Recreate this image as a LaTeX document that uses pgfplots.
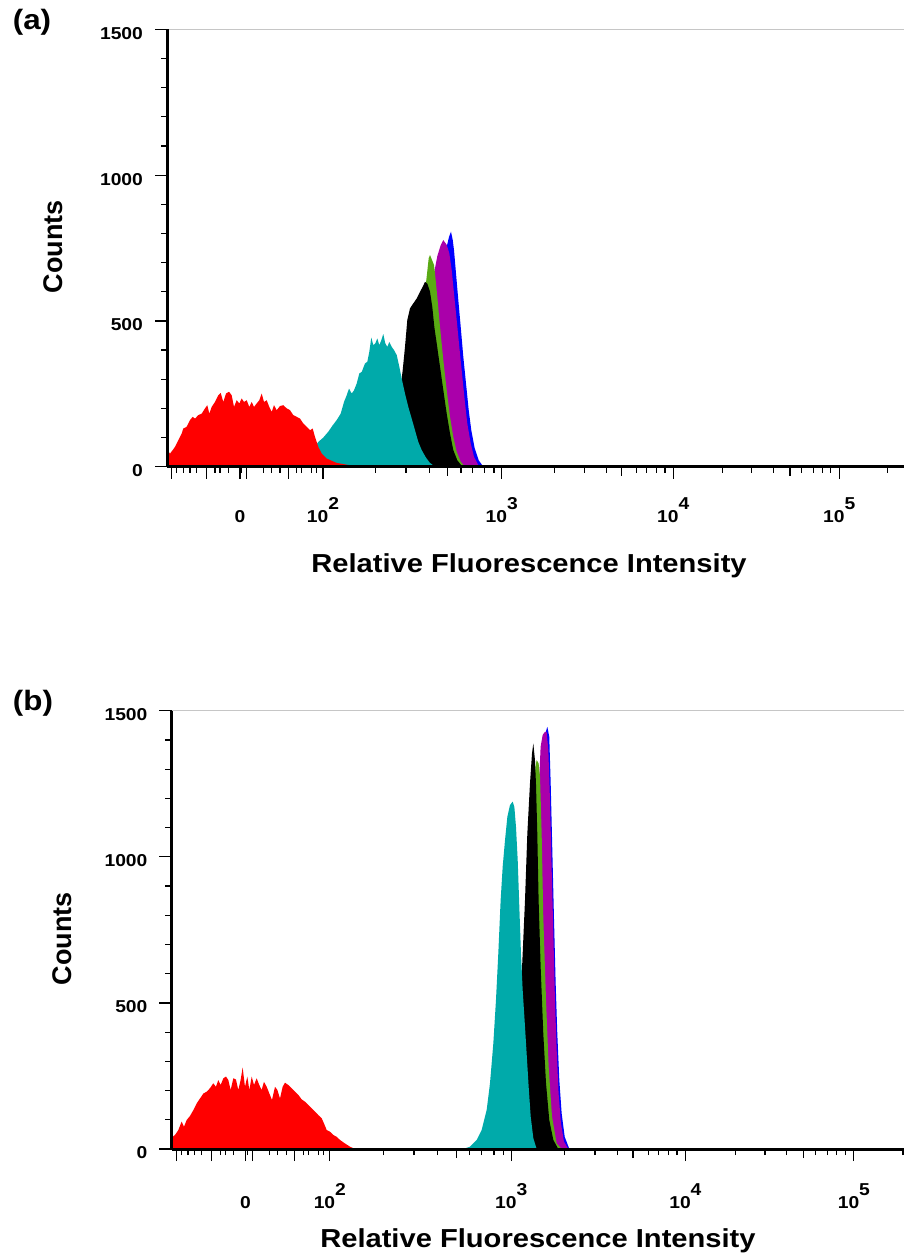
\documentclass[border=0pt]{standalone}
\usepackage{fontspec}
\setmainfont{Liberation Sans}[FakeStretch=1.12]
\newfontfamily\countsfont{Liberation Sans}
\usepackage{pgfplots}
\pgfplotsset{compat=1.18}
\definecolor{fcred}{RGB}{255,0,0}
\definecolor{fccyan}{RGB}{0,170,170}
\definecolor{fcgreen}{RGB}{90,170,20}
\definecolor{fcpurple}{RGB}{170,0,170}
\definecolor{fcblue}{RGB}{0,0,255}
\newcommand{\dsup}[1]{\raisebox{6.5pt}{#1}}
\newcommand{\tickfont}{\fontsize{8.6}{10}\selectfont\bfseries}
\pgfplotsset{flowaxis/.style={
  scale only axis, axis on top,
  ymin=0, ymax=1500, xmin=0,
  axis x line*=bottom, axis y line*=left,
  axis line style={line width=1.5pt, -},
  ytick={0,500,1000,1500}, yticklabels={0,500,1000,1500},
  minor ytick={100,200,300,400,600,700,800,900,1100,1200,1300,1400},
  xtick={0.047,0.397,0.73,0.797,1.213,1.56,3.347,5.063,6.723},
  xticklabels={,,0,,,10\dsup{2},10\dsup{3},10\dsup{4},10\dsup{5}},
  minor xtick={0.097,0.163,0.23,0.297,0.48,0.53,0.613,0.747,0.963,1.047,1.13,1.297,1.347,1.447,1.497,2.087,2.39,2.623,2.94,3.057,3.177,3.27,3.873,4.173,4.397,4.697,4.797,4.897,4.98,5.557,5.847,6.063,6.347,6.463,6.553,6.637,7.207},
  extra x ticks={2.807,4.547,6.23}, extra x tick labels={},
  extra x tick style={major tick length=4.5pt},
  tick align=outside,
  major tick length=6pt, minor tick length=3pt,
  tick style={line width=0.6pt, black},
  ticklabel style={font=\tickfont, inner sep=0pt},
  yticklabel style={anchor=east, xshift=-5.85pt, yshift=-2pt},
  xlabel={Relative Fluorescence Intensity},
  ylabel={\countsfont\bfseries Counts},
  xlabel style={font=\fontsize{13}{15}\selectfont\bfseries, anchor=north, inner sep=0pt},
  ylabel style={font=\fontsize{13.5}{15}\selectfont, anchor=center, inner sep=0pt},
}}
\begin{document}
\begin{tikzpicture}
\path[use as bounding box] (0,0) rectangle (452pt,-629.5pt);
\node[font=\fontsize{14}{16}\selectfont\bfseries] at (16pt,-11pt) {(a)};
\node[font=\fontsize{14}{16}\selectfont\bfseries] at (16.5pt,-351.75pt) {(b)};
% ---------------- panel (a)
\begin{axis}[flowaxis, at={(83.5pt,-233.35pt)}, anchor=south west,
  width=368.5pt, height=218.7pt, xmax=7.37,
  xticklabel style={anchor=base, yshift=-21.65pt},
  xlabel style={at={(axis description cs:0.4912,-0.1973)}},
  ylabel style={at={(axis description cs:-0.1547,0.5034)}}]
\addplot[fill=fcblue, draw=none] coordinates {(1.997,0) (2.397,80) (2.563,297) (2.697,560) (2.763,697) (2.797,754) (2.82,788) (2.84,806) (2.857,778) (2.87,743) (2.89,663) (2.913,572) (2.937,480) (2.963,377) (2.99,286) (3.017,194) (3.043,125) (3.077,63) (3.117,22) (3.163,0)} \closedcycle;
\addplot[fill=fcpurple, draw=none] coordinates {(1.997,0) (2.33,68) (2.497,274) (2.613,503) (2.67,663) (2.703,722) (2.737,760) (2.763,777) (2.797,761) (2.823,732) (2.847,674) (2.87,594) (2.897,503) (2.923,411) (2.95,320) (2.977,228) (3.003,148) (3.037,80) (3.07,34) (3.113,5) (3.147,0)} \closedcycle;
\addplot[fill=fcgreen, draw=none] coordinates {(1.83,0) (2.163,28) (2.363,160) (2.497,389) (2.57,572) (2.597,652) (2.617,715) (2.63,726) (2.65,709) (2.67,692) (2.68,663) (2.703,583) (2.73,480) (2.763,366) (2.797,263) (2.83,171) (2.863,102) (2.897,51) (2.937,17) (2.98,0)} \closedcycle;
\addplot[fill=black, draw=none] coordinates {(1.897,0) (2.097,17) (2.23,68) (2.313,205) (2.357,331) (2.38,411) (2.403,503) (2.43,543) (2.463,560) (2.497,577) (2.53,600) (2.557,617) (2.58,634) (2.603,628) (2.63,600) (2.653,548) (2.673,480) (2.697,423) (2.73,343) (2.763,263) (2.797,182) (2.83,114) (2.863,57) (2.903,22) (2.947,3) (2.98,0)} \closedcycle;
\addplot[fill=fccyan, draw=none] coordinates {(0.797,0) (0.93,5) (1.063,11) (1.197,22) (1.297,31) (1.397,45) (1.463,62) (1.513,85) (1.563,100) (1.613,120) (1.657,142) (1.697,160) (1.737,182) (1.77,222) (1.797,245) (1.82,268) (1.847,251) (1.87,262) (1.897,285) (1.923,320) (1.947,325) (1.98,354) (2.003,360) (2.023,394) (2.043,443) (2.063,417) (2.083,423) (2.103,440) (2.123,417) (2.143,434) (2.163,455) (2.183,423) (2.203,411) (2.223,428) (2.247,411) (2.27,400) (2.297,383) (2.323,343) (2.35,297) (2.38,251) (2.413,205) (2.447,165) (2.48,125) (2.513,85) (2.547,57) (2.59,31) (2.63,13) (2.68,0)} \closedcycle;
\addplot[fill=fcred, draw=none] coordinates {(0,0) (0,57) (0.003,57) (0.03,45) (0.057,57) (0.08,68) (0.113,91) (0.147,114) (0.163,131) (0.197,137) (0.23,160) (0.257,171) (0.28,165) (0.313,177) (0.347,182) (0.38,200) (0.403,211) (0.423,182) (0.447,205) (0.48,222) (0.513,245) (0.537,253) (0.563,222) (0.59,251) (0.62,257) (0.647,245) (0.67,205) (0.697,228) (0.723,217) (0.747,234) (0.77,222) (0.797,228) (0.823,205) (0.847,222) (0.87,205) (0.897,217) (0.923,228) (0.947,251) (0.97,222) (0.997,228) (1.023,205) (1.047,188) (1.07,211) (1.097,194) (1.13,208) (1.163,211) (1.197,200) (1.23,194) (1.263,177) (1.297,171) (1.33,165) (1.363,148) (1.397,137) (1.43,125) (1.457,131) (1.48,102) (1.513,68) (1.547,45) (1.597,28) (1.697,13) (1.83,5) (1.963,0)} \closedcycle;
\draw[gray!45, line width=0.75pt] (rel axis cs:0,1) -- (rel axis cs:1,1);
\end{axis}
% ---------------- panel (b)
\begin{axis}[flowaxis, at={(85.75pt,-574.5pt)}, anchor=south west,
  width=366.25pt, height=219.15pt, xmax=7.217,
  xticklabel style={anchor=base, yshift=-23.65pt},
  xlabel style={at={(axis description cs:0.5003,-0.1802)}},
  ylabel style={at={(axis description cs:-0.1495,0.48)}}]
\addplot[fill=fcblue, draw=none] coordinates {(3.368,0) (3.532,396) (3.614,966) (3.657,1308) (3.683,1422) (3.703,1445) (3.722,1411) (3.736,1251) (3.752,1023) (3.768,795) (3.785,567) (3.801,396) (3.821,236) (3.844,122) (3.874,42) (3.92,0)} \closedcycle;
\addplot[fill=fcpurple, draw=none] coordinates {(3.335,0) (3.499,396) (3.581,852) (3.614,1194) (3.637,1377) (3.657,1417) (3.68,1428) (3.696,1428) (3.713,1365) (3.729,1194) (3.745,966) (3.762,738) (3.778,510) (3.795,339) (3.814,190) (3.837,88) (3.867,25) (3.91,0)} \closedcycle;
\addplot[fill=fcgreen, draw=none] coordinates {(3.302,0) (3.433,282) (3.516,738) (3.565,1137) (3.585,1308) (3.598,1331) (3.617,1320) (3.631,1274) (3.647,1080) (3.663,795) (3.69,510) (3.716,282) (3.749,111) (3.795,19) (3.844,0)} \closedcycle;
\addplot[fill=black, draw=none] coordinates {(3.269,0) (3.368,54) (3.417,282) (3.45,590) (3.483,852) (3.506,1080) (3.532,1251) (3.552,1354) (3.565,1388) (3.581,1331) (3.591,1251) (3.604,1080) (3.617,852) (3.637,624) (3.663,396) (3.69,225) (3.722,99) (3.762,31) (3.811,0)} \closedcycle;
\addplot[fill=fccyan, draw=none] coordinates {(2.875,0) (2.941,8) (3.007,31) (3.056,65) (3.105,133) (3.138,225) (3.171,362) (3.197,510) (3.22,670) (3.243,852) (3.263,966) (3.286,1057) (3.309,1137) (3.335,1177) (3.361,1189) (3.378,1171) (3.394,1103) (3.411,989) (3.427,829) (3.443,670) (3.46,544) (3.479,441) (3.499,327) (3.519,213) (3.539,111) (3.565,37) (3.598,0)} \closedcycle;
\addplot[fill=fcred, draw=none] coordinates {(0,0) (0,40) (0.0115,42) (0.0345,48) (0.0673,65) (0.1,94) (0.123,76) (0.149,99) (0.182,113) (0.215,133) (0.248,156) (0.281,173) (0.314,190) (0.346,196) (0.379,208) (0.412,225) (0.438,213) (0.461,236) (0.484,219) (0.511,242) (0.537,248) (0.56,236) (0.583,202) (0.609,242) (0.635,238) (0.658,202) (0.681,236) (0.701,279) (0.724,213) (0.747,248) (0.767,202) (0.79,248) (0.813,219) (0.839,242) (0.865,219) (0.888,202) (0.911,230) (0.938,213) (0.964,190) (0.99,168) (1.02,213) (1.043,202) (1.069,173) (1.095,213) (1.118,227) (1.151,219) (1.184,208) (1.217,196) (1.25,185) (1.282,170) (1.315,162) (1.348,151) (1.381,139) (1.414,128) (1.447,116) (1.48,105) (1.502,88) (1.529,65) (1.562,59) (1.594,48) (1.627,42) (1.66,31) (1.709,19) (1.759,8) (1.808,0)} \closedcycle;
\draw[gray!45, line width=0.75pt] (rel axis cs:0,1) -- (rel axis cs:1,1);
\end{axis}
\end{tikzpicture}
\end{document}
